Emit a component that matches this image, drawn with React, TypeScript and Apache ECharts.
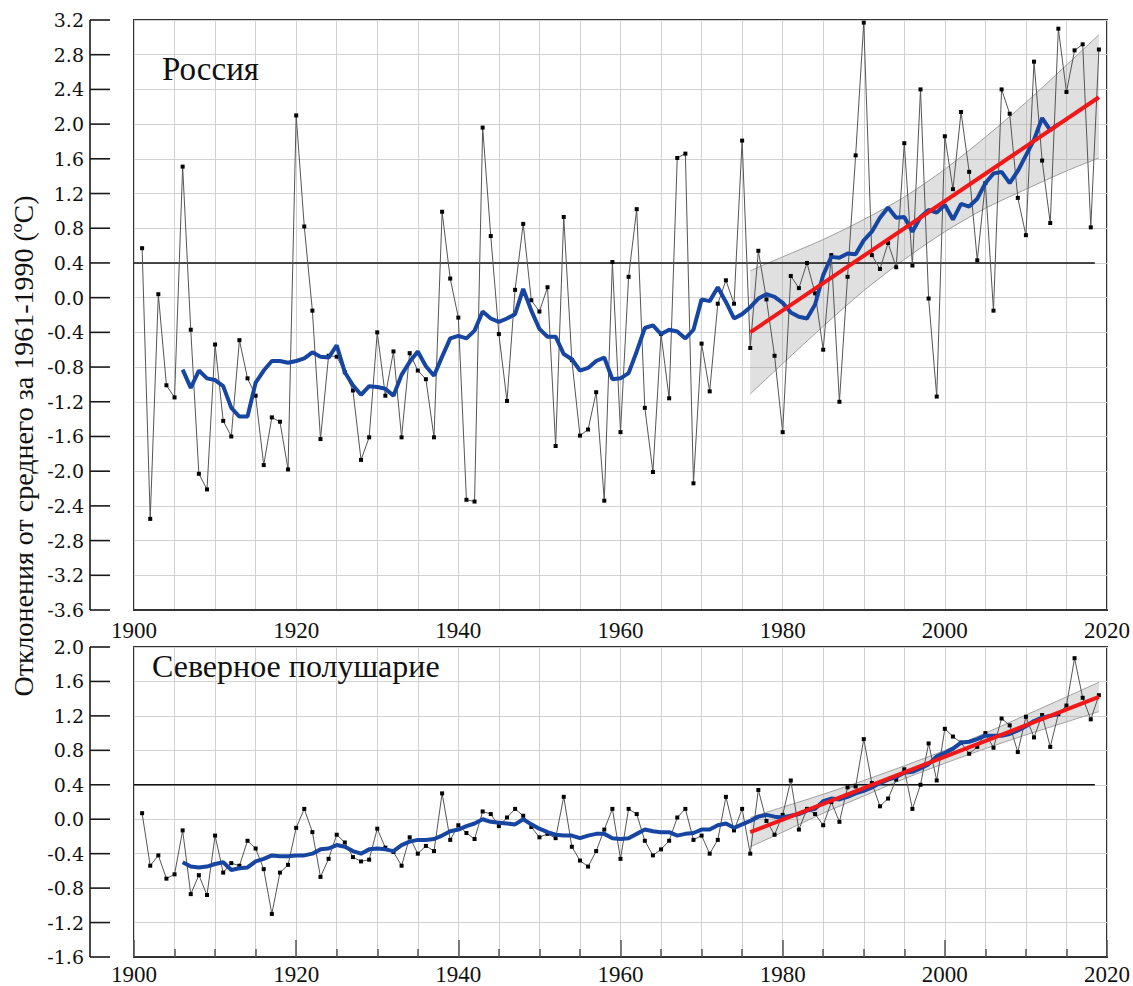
import React, { useEffect, useRef } from "react";
import * as echarts from "echarts";

// ---------- DATA ----------
const years: number[] = [];
for (let y = 1901; y <= 2019; y++) years.push(y);
const smoothYears: number[] = [];
for (let y = 1906; y <= 2014; y++) smoothYears.push(y);

const russia: number[] = [
  0.57, -2.55, 0.04, -1.01, -1.15, 1.51, -0.37, -2.03, -2.21, -0.54,
  -1.42, -1.6, -0.49, -0.93, -1.13, -1.93, -1.38, -1.43, -1.98, 2.1,
  0.82, -0.15, -1.63, -0.67, -0.68, -0.86, -1.07, -1.87, -1.61, -0.4,
  -1.13, -0.62, -1.61, -0.64, -0.84, -0.94, -1.61, 0.99, 0.22, -0.23,
  -2.33, -2.35, 1.96, 0.71, -0.42, -1.19, 0.09, 0.85, -0.03, -0.16,
  0.12, -1.71, 0.93, -0.72, -1.59, -1.52, -1.09, -2.34, 0.41, -1.55,
  0.24, 1.02, -1.27, -2.01, -0.42, -1.16, 1.61, 1.66, -2.14, -0.53,
  -1.08, -0.07, 0.2, -0.07, 1.81, -0.58, 0.54, -0.02, -0.67, -1.55,
  0.25, 0.11, 0.4, 0.05, -0.6, 0.49, -1.2, 0.24, 1.64, 3.17,
  0.49, 0.33, 0.63, 0.35, 1.78, 0.37, 2.4, -0.01, -1.14, 1.86,
  1.25, 2.14, 1.45, 0.43, 1.32, -0.15, 2.4, 2.12, 1.15, 0.72,
  2.72, 1.58, 0.86, 3.1, 2.37, 2.85, 2.92, 0.81, 2.86,
];

const russiaSmooth: number[] = [
  -0.83, -1.04, -0.84, -0.93, -0.95, -1.02, -1.27, -1.37, -1.37, -0.98,
  -0.84, -0.73, -0.73, -0.75, -0.73, -0.7, -0.63, -0.68, -0.69, -0.55,
  -0.86, -1.01, -1.12, -1.02, -1.03, -1.05, -1.13, -0.89, -0.74, -0.62,
  -0.79, -0.9, -0.68, -0.47, -0.44, -0.47, -0.38, -0.16, -0.24, -0.28,
  -0.24, -0.19, 0.1, -0.15, -0.36, -0.45, -0.45, -0.65, -0.71, -0.84,
  -0.81, -0.73, -0.69, -0.94, -0.93, -0.87, -0.62, -0.35, -0.32, -0.42,
  -0.37, -0.39, -0.47, -0.37, -0.02, -0.04, 0.12, -0.05, -0.24, -0.19,
  -0.11, -0.01, 0.04, 0.01, -0.06, -0.17, -0.22, -0.24, -0.08, 0.26,
  0.47, 0.46, 0.51, 0.5, 0.66, 0.76, 0.92, 1.04, 0.92, 0.93,
  0.76, 0.93, 1.01, 0.98, 1.07, 0.9, 1.08, 1.05, 1.14, 1.32,
  1.43, 1.45, 1.32, 1.46, 1.64, 1.82, 2.07, 1.93, 2.0,
];

const nh: number[] = [
  0.07, -0.54, -0.42, -0.69, -0.64, -0.13, -0.87, -0.65, -0.88, -0.19,
  -0.62, -0.51, -0.54, -0.25, -0.34, -0.58, -1.1, -0.62, -0.53, -0.1,
  0.12, -0.15, -0.67, -0.46, -0.18, -0.27, -0.44, -0.49, -0.47, -0.11,
  -0.33, -0.38, -0.54, -0.21, -0.4, -0.31, -0.37, 0.3, -0.24, -0.07,
  -0.16, -0.23, 0.09, 0.06, -0.08, 0.02, 0.12, 0.04, -0.09, -0.21,
  -0.17, -0.22, 0.26, -0.32, -0.48, -0.55, -0.37, -0.12, 0.12, -0.46,
  0.12, 0.06, -0.25, -0.42, -0.35, -0.25, 0.02, 0.12, -0.24, -0.19,
  -0.4, -0.24, 0.26, -0.13, 0.12, -0.4, 0.34, -0.02, -0.18, 0.05,
  0.45, -0.12, 0.12, 0.06, -0.07, 0.2, -0.03, 0.37, 0.38, 0.93,
  0.42, 0.15, 0.24, 0.46, 0.58, 0.12, 0.4, 0.88, 0.45, 1.05,
  0.96, 0.89, 0.76, 0.84, 1.0, 0.83, 1.17, 1.09, 0.78, 1.19,
  0.95, 1.21, 0.84, 1.22, 1.32, 1.87, 1.41, 1.16, 1.44,
];

const nhSmooth: number[] = [
  -0.5, -0.55, -0.56, -0.55, -0.52, -0.5, -0.59, -0.57, -0.56, -0.49,
  -0.46, -0.42, -0.43, -0.43, -0.42, -0.42, -0.4, -0.35, -0.34, -0.3,
  -0.32, -0.37, -0.4, -0.35, -0.34, -0.35, -0.37, -0.3, -0.26, -0.24,
  -0.24, -0.23, -0.19, -0.14, -0.12, -0.08, -0.05, 0.0, -0.03, -0.04,
  -0.05, -0.06, 0.0, -0.06, -0.11, -0.15, -0.18, -0.19, -0.19, -0.22,
  -0.19, -0.17, -0.17, -0.22, -0.23, -0.22, -0.17, -0.12, -0.14, -0.15,
  -0.15, -0.19, -0.17, -0.16, -0.12, -0.12, -0.07, -0.05, -0.1, -0.06,
  -0.02, 0.03, 0.05, 0.03, 0.02, 0.04, 0.06, 0.1, 0.12, 0.21,
  0.24, 0.23, 0.26, 0.3, 0.33, 0.37, 0.42, 0.46, 0.49, 0.54,
  0.55, 0.59, 0.64, 0.73, 0.77, 0.82, 0.89, 0.9, 0.93, 0.97,
  0.97, 0.97, 0.99, 1.03, 1.08, 1.14, 1.18, 1.2, 1.22,
];

const trendYears: number[] = [1976, 2019];
const russiaTrend: number[] = [-0.4, 2.31];
const nhTrend: number[] = [-0.15, 1.42];

const bandYears: number[] = [1976, 1980, 1985, 1990, 1995, 2000, 2005, 2010, 2015, 2019];
const russiaBandUpper: number[] = [0.31, 0.47, 0.67, 0.9, 1.16, 1.48, 1.85, 2.25, 2.68, 3.03];
const russiaBandLower: number[] = [-1.11, -0.76, -0.33, 0.08, 0.44, 0.76, 1.03, 1.25, 1.46, 1.61];
const nhBandUpper: number[] = [0.02, 0.14, 0.29, 0.45, 0.62, 0.8, 1.0, 1.21, 1.42, 1.59];
const nhBandLower: number[] = [-0.32, -0.15, 0.07, 0.27, 0.47, 0.65, 0.82, 0.98, 1.13, 1.25];

const refLineYears: number[] = [1900, 2018.5];
const refLevel = 0.4;

const xTickLabels: number[] = [1900, 1920, 1940, 1960, 1980, 2000, 2020];
const russiaTicks: number[] = [-3.6, -3.2, -2.8, -2.4, -2.0, -1.6, -1.2, -0.8, -0.4, 0.0, 0.4, 0.8, 1.2, 1.6, 2.0, 2.4, 2.8, 3.2];
const nhTicks: number[] = [-1.6, -1.2, -0.8, -0.4, 0.0, 0.4, 0.8, 1.2, 1.6, 2.0];

// ---------- STYLE ----------
const SERIF = "Liberation Serif";
const YFONT = "DejaVu Serif";
const GRID_COLOR = "#d2d2d2";
const PANEL_TOP = [20, 647];
const PANEL_H = [590, 312];
const SCALE_GAP = 44; // detached y scale sits this far left of the plot box
const TICK_LEN = 20;

function pairs(xs: number[], ys: number[]) {
  return ys.map((v, i) => [xs[i], v]);
}

function bandSeries(idx: number, up: number[], lo: number[]) {
  return {
    type: "custom",
    xAxisIndex: idx,
    yAxisIndex: idx,
    z: 1,
    silent: true,
    data: [[bandYears[0], up[0]]],
    renderItem: (_params: any, api: any) => {
      const top = bandYears.map((yr, i) => api.coord([yr, up[i]]));
      const bot = bandYears.map((yr, i) => api.coord([yr, lo[i]]));
      const poly = top.concat(bot.slice().reverse());
      return {
        type: "group",
        children: [
          { type: "polygon", shape: { points: poly }, style: { fill: "rgba(160,160,160,0.32)", stroke: null } },
          { type: "polyline", shape: { points: top, smooth: 0.3 }, style: { stroke: "#a0a0a0", lineWidth: 1, fill: null } },
          { type: "polyline", shape: { points: bot, smooth: 0.3 }, style: { stroke: "#a0a0a0", lineWidth: 1, fill: null } },
        ],
      };
    },
  };
}

// detached y scale drawn from the panel's own y axis (same coordinate path as the band)
function scaleSeries(idx: number, ticks: number[]) {
  return {
    type: "custom",
    xAxisIndex: idx,
    yAxisIndex: idx,
    z: 6,
    silent: true,
    clip: false,
    data: [[xTickLabels[0], ticks[0]]],
    renderItem: (_params: any, api: any) => {
      const children: any[] = [];
      const a = api.coord([xTickLabels[0], ticks[0]]);
      const b = api.coord([xTickLabels[0], ticks[ticks.length - 1]]);
      const x0 = a[0] - SCALE_GAP;
      children.push({
        type: "line",
        shape: { x1: x0, y1: a[1], x2: x0, y2: b[1] },
        style: { stroke: "#1a1a1a", lineWidth: 1.6, fill: null },
      });
      ticks.forEach((t) => {
        const p = api.coord([xTickLabels[0], t]);
        children.push({
          type: "line",
          shape: { x1: x0, y1: p[1], x2: x0 + TICK_LEN, y2: p[1] },
          style: { stroke: "#1a1a1a", lineWidth: 1.6, fill: null },
        });
      });
      return { type: "group", children };
    },
  };
}

function panelSeries(idx: number, vals: number[], smooth: number[], trend: number[], up: number[], lo: number[], ticks: number[]) {
  return [
    bandSeries(idx, up, lo),
    {
      type: "line", xAxisIndex: idx, yAxisIndex: idx, z: 2, silent: true, symbol: "none",
      data: refLineYears.map((yr) => [yr, refLevel]),
      lineStyle: { color: "#111", width: 1.5 },
    },
    {
      type: "line", xAxisIndex: idx, yAxisIndex: idx, z: 3, silent: true,
      data: pairs(years, vals),
      symbol: "rect", symbolSize: 4,
      itemStyle: { color: "#000" },
      lineStyle: { color: "#555", width: 1 },
    },
    {
      type: "line", xAxisIndex: idx, yAxisIndex: idx, z: 4, silent: true,
      data: pairs(smoothYears, smooth), symbol: "none",
      lineStyle: { color: "#1746a2", width: 4 },
    },
    {
      type: "line", xAxisIndex: idx, yAxisIndex: idx, z: 5, silent: true,
      data: pairs(trendYears, trend), symbol: "none",
      lineStyle: { color: "#f01818", width: 4 },
    },
    scaleSeries(idx, ticks),
  ];
}

function xAxis(idx: number, withTicks: boolean, margin: number) {
  return {
    type: "value",
    gridIndex: idx,
    min: xTickLabels[0],
    max: xTickLabels[xTickLabels.length - 1],
    interval: 20,
    axisLine: { show: true, onZero: false, lineStyle: { color: "#333", width: 2 } },
    axisTick: { show: withTicks, inside: true, length: 17, lineStyle: { color: "#555", width: 1.5 } },
    minorTick: { show: withTicks, splitNumber: 4, length: 8, lineStyle: { color: "#555", width: 1.5 } },
    axisLabel: {
      fontFamily: SERIF, fontSize: 23, color: "#111", margin,
      formatter: (v: number) => String(Math.round(v)),
    },
    splitLine: { show: true, lineStyle: { color: GRID_COLOR, width: 1 } },
    minorSplitLine: { show: true, lineStyle: { color: GRID_COLOR, width: 1 } },
  };
}

function yAxis(idx: number, ticks: number[]) {
  return {
    type: "value", gridIndex: idx, min: ticks[0], max: ticks[ticks.length - 1], interval: 0.4,
    position: "left", offset: SCALE_GAP,
    axisLine: { show: false }, axisTick: { show: false },
    axisLabel: {
      show: true, fontFamily: YFONT, fontSize: 19, color: "#111", margin: 6,
      formatter: (v: number) => (Math.abs(v) < 1e-9 ? "0.0" : v.toFixed(1)),
    },
    splitLine: { show: true, lineStyle: { color: GRID_COLOR, width: 1 } },
  };
}

export default function App() {
  const ref = useRef<HTMLDivElement>(null);
  useEffect(() => {
    if (!ref.current) return;
    const chart = echarts.init(ref.current, undefined, { renderer: "svg" });
    chart.setOption({
      animation: false,
      backgroundColor: "#fff",
      grid: [
        { left: 134, top: PANEL_TOP[0], width: 973, height: PANEL_H[0], show: true, borderColor: "#333", borderWidth: 2, backgroundColor: "transparent" },
        { left: 134, top: PANEL_TOP[1], width: 973, height: PANEL_H[1], show: true, borderColor: "#333", borderWidth: 2, backgroundColor: "transparent" },
      ],
      xAxis: [xAxis(0, false, 9), xAxis(1, true, 6)],
      yAxis: [yAxis(0, russiaTicks), yAxis(1, nhTicks)],
      series: [
        ...panelSeries(0, russia, russiaSmooth, russiaTrend, russiaBandUpper, russiaBandLower, russiaTicks),
        ...panelSeries(1, nh, nhSmooth, nhTrend, nhBandUpper, nhBandLower, nhTicks),
      ],
      graphic: [
        {
          type: "text", left: 162, top: 52, z: 10,
          style: { text: "Россия", fontFamily: SERIF, fontSize: 33, fill: "#111" },
        },
        {
          type: "text", left: 152, top: 650, z: 10,
          style: { text: "Северное полушарие", fontFamily: SERIF, fontSize: 32, fill: "#111" },
        },
        {
          type: "text", x: 23, y: 446, rotation: Math.PI / 2, z: 10,
          style: {
            text: "Отклонения от среднего за 1961-1990 (ºС)",
            fontFamily: SERIF, fontSize: 28, fill: "#111",
            align: "center", verticalAlign: "middle",
          },
        },
      ],
    });
    return () => chart.dispose();
  }, []);
  return (
    <div
      ref={ref}
      style={{ position: "absolute", left: 0, top: 0, width: 1133, height: 986, background: "#fff" }}
    />
  );
}
